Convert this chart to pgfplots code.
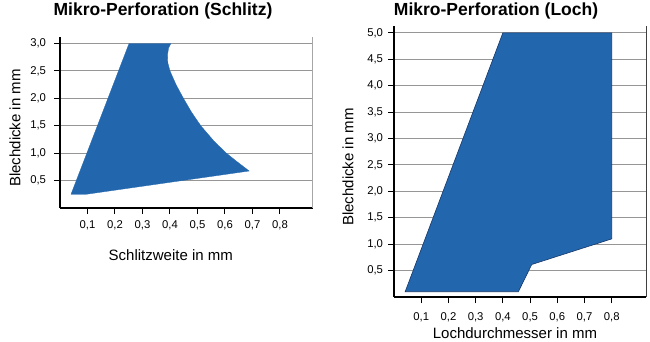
\documentclass[border=0pt]{standalone}
\usepackage{fontspec}
\setmainfont{Liberation Sans}
\usepackage{pgfplots}
\pgfplotsset{compat=1.18}
\definecolor{fillblue}{RGB}{34,103,174}
\definecolor{edgeblue}{RGB}{22,55,105}
\definecolor{gridgray}{RGB}{150,150,150}
\pgfplotsset{
  mystyle/.style={
    scale only axis, clip=false,
    axis x line*=bottom, axis y line*=left,
    axis line style={line width=1.4pt, black},
    tick align=outside,
    major tick length=6pt,
    tick style={black, line width=1pt},
    ymajorgrids, xmajorgrids=false,
    grid style={gridgray, line width=1pt},
    xtick={0.1,0.2,0.3,0.4,0.5,0.6,0.7,0.8},
    /pgf/number format/.cd, use comma, fixed, fixed zerofill, precision=1, assume math mode=true,
    /pgfplots/.cd,
    tick label style={font=\fontsize{11.3}{13}\selectfont},
    label style={font=\fontsize{15}{17}\selectfont},
    xmin=0, ymin=0,
  }
}
\begin{document}
\begin{tikzpicture}
\path[use as bounding box] (0,0) rectangle (650pt,342pt);
\begin{axis}[mystyle,
  at={(60pt,134pt)}, anchor=south west,
  width=253pt, height=171pt,
  xmax=0.92, ymax=3.12,
  ytick={0.5,1,1.5,2,2.5,3},
  xticklabel style={yshift=-3pt},
  yticklabel style={xshift=-4.5pt},
  xlabel={Schlitzweite in mm},
  xlabel style={at={(axis description cs:0.438,-0.275)}, anchor=center},
  ylabel={Blechdicke in mm},
  ylabel style={at={(axis description cs:-0.178,0.468)}, anchor=center, rotate=0},
]
\addplot[fill=fillblue, draw=fillblue, line width=0.3pt] coordinates {
  (0.040,0.25) (0.095,0.25) (0.688,0.675) (0.645,0.84) (0.605,1.00)
  (0.560,1.22) (0.512,1.50) (0.478,1.75) (0.449,2.00) (0.422,2.25)
  (0.400,2.50) (0.392,2.65) (0.391,2.80) (0.395,2.92) (0.403,3.00) (0.251,3.00)
} -- cycle;
\draw[gray!70, line width=1pt] (rel axis cs:1,0) -- (rel axis cs:1,1);
\node[font=\bfseries\fontsize{17.5}{20}\selectfont, anchor=base] at (rel axis cs:0.407,1.123) {Mikro-Perforation (Schlitz)};
\end{axis}
\begin{axis}[mystyle,
  at={(394pt,45pt)}, anchor=south west,
  width=252pt, height=271pt,
  xmax=0.926, ymax=5.13,
  ytick={0.5,1,1.5,2,2.5,3,3.5,4,4.5,5},
  xticklabel style={yshift=-6pt},
  yticklabel style={xshift=-1.5pt},
  xlabel={Lochdurchmesser in mm},
  xlabel style={at={(axis description cs:0.48,-0.133)}, anchor=center},
  ylabel={Blechdicke in mm},
  ylabel style={at={(axis description cs:-0.183,0.48)}, anchor=center, rotate=0},
]
\addplot[fill=fillblue, draw=edgeblue, line width=0.6pt] coordinates {
  (0.041,0.10) (0.457,0.10) (0.506,0.615) (0.800,1.10) (0.800,5.00)
  (0.400,5.00)
} -- cycle;
\draw[black!75, line width=1pt] (rel axis cs:1,0) -- (rel axis cs:1,1);
\node[font=\bfseries\fontsize{17.5}{20}\selectfont, anchor=base] at (rel axis cs:0.405,1.037) {Mikro-Perforation (Loch)};
\end{axis}
\end{tikzpicture}
\end{document}
